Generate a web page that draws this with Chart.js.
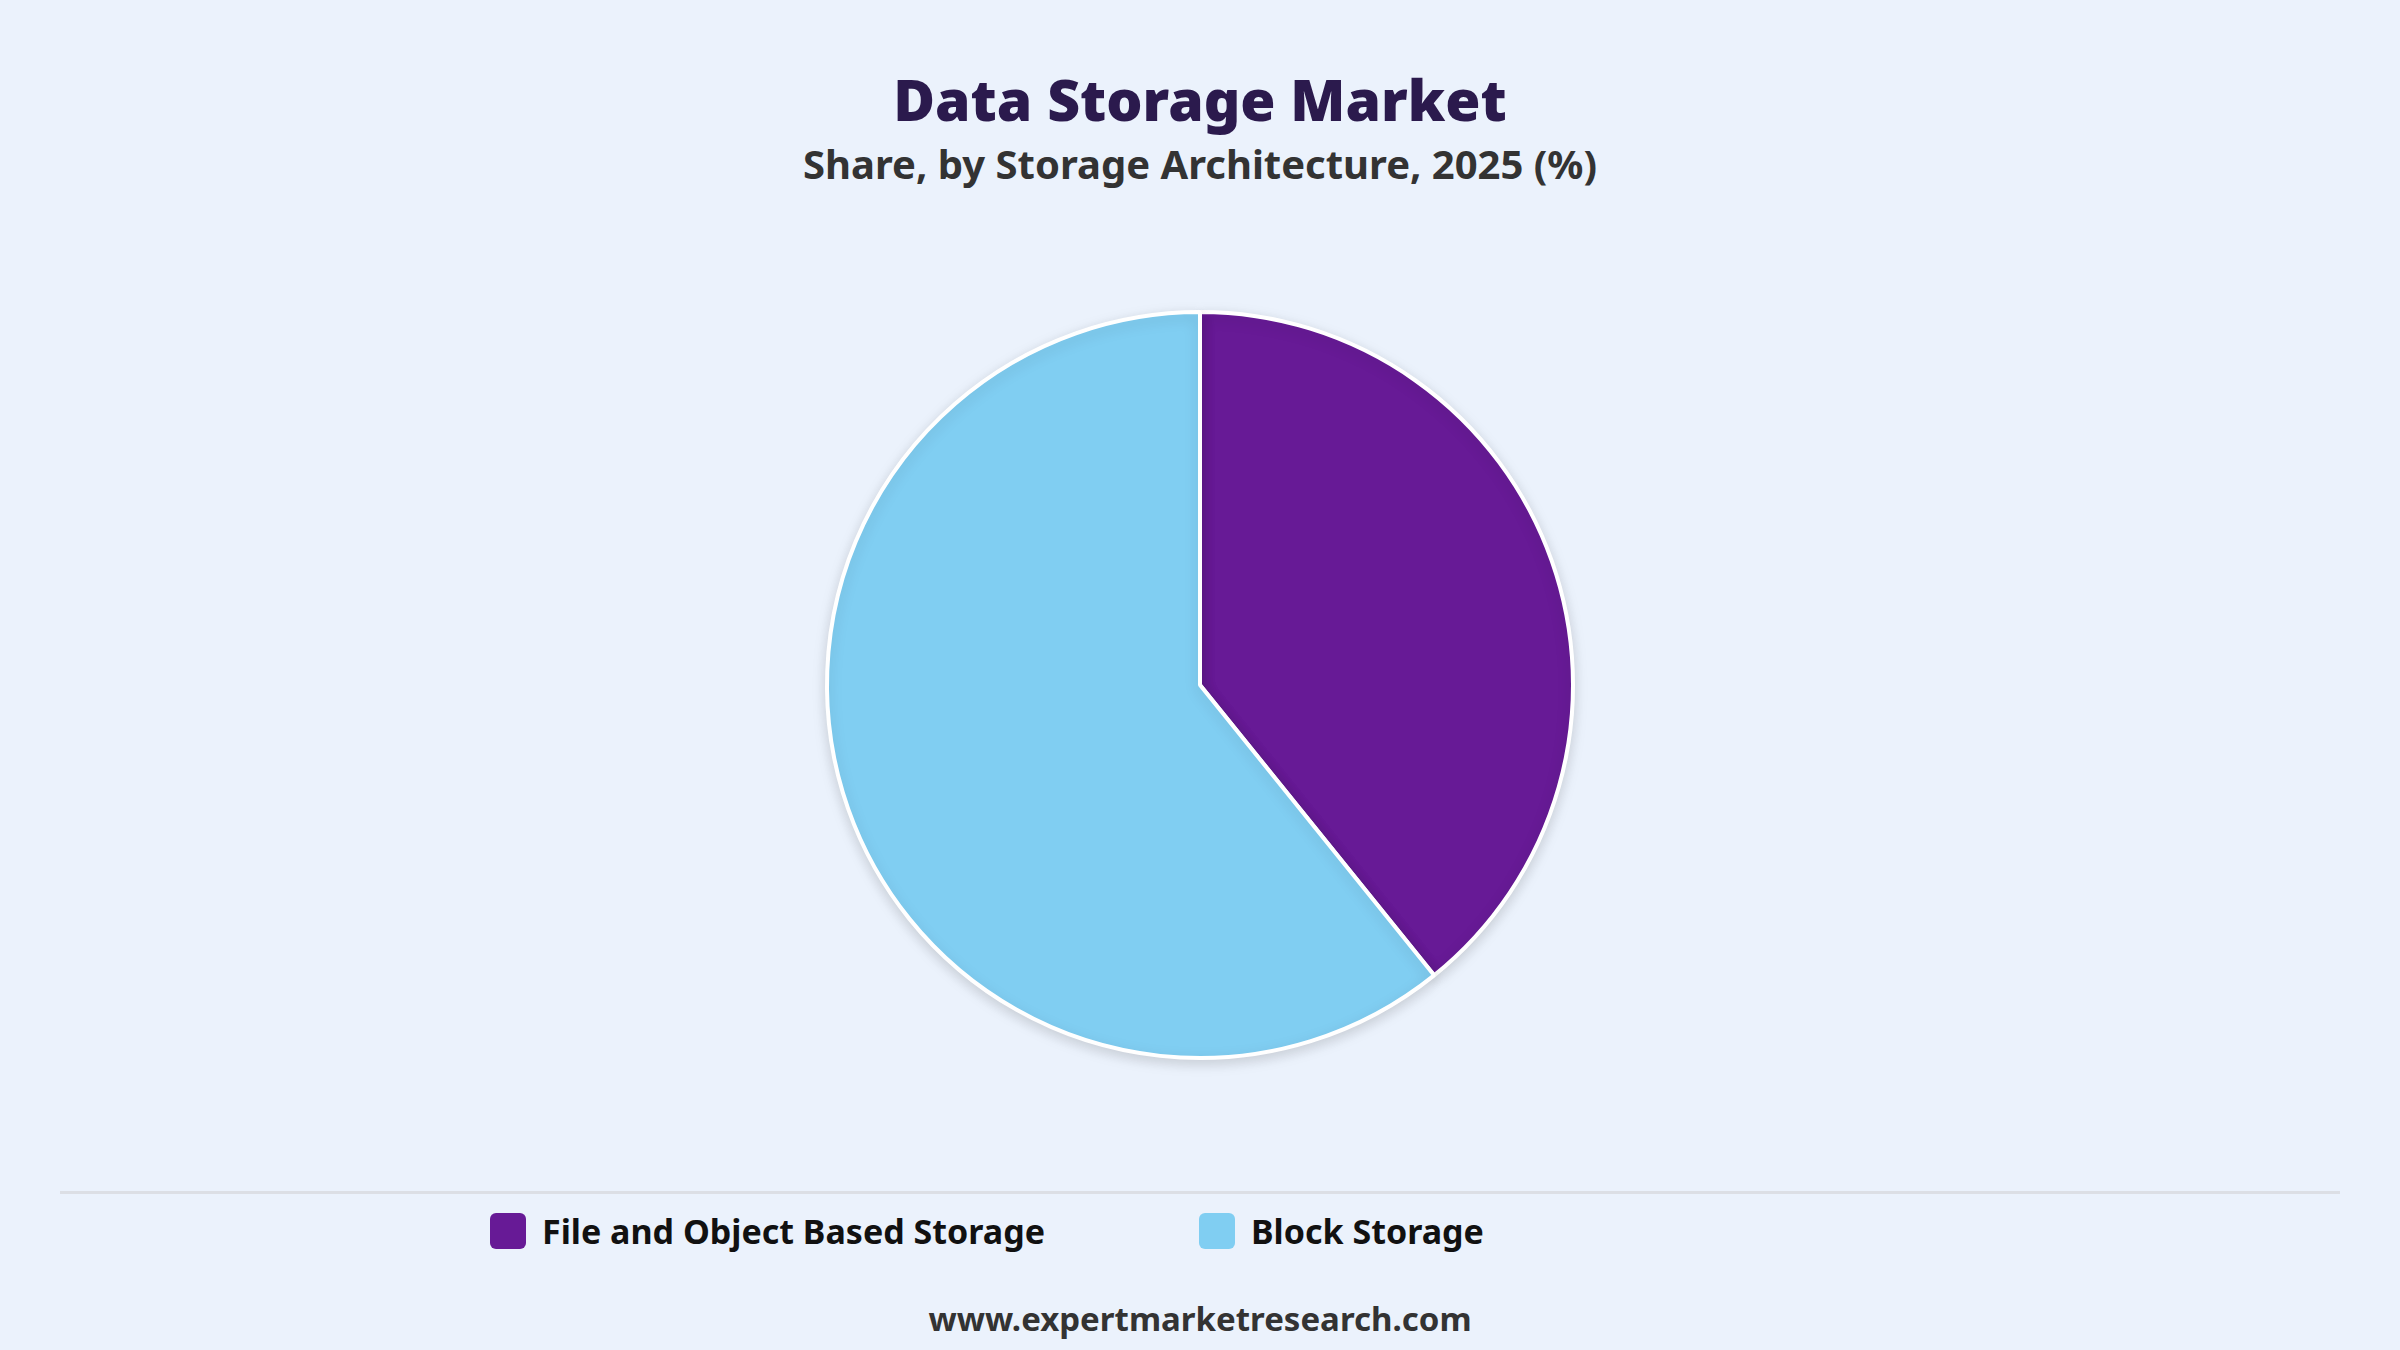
<!DOCTYPE html>
<html><head><meta charset="utf-8">
<script src="https://cdn.jsdelivr.net/npm/chart.js@4"></script>
<style>
body{margin:0;width:2400px;height:1350px;background:#ebf2fc;font-family:"Noto Sans",sans-serif;position:relative;overflow:hidden}
.t{position:absolute;left:0;width:2400px;text-align:center}
#title{top:60px;font-size:57px;font-weight:900;color:#2b1a4d}
#sub{top:136px;font-size:40px;font-weight:700;color:#333}
#wrap{position:absolute;left:0;top:290px;width:2400px;height:790px}
#line{position:absolute;left:60px;width:2280px;top:1191px;border-top:3px solid #dcdfe5}
.lg{position:absolute;top:1208px;font-size:34px;font-weight:700;color:#111;display:flex;align-items:center}
.sw{width:36px;height:36px;border-radius:6px;margin-right:16px}
#foot{top:1296px;font-size:33px;font-weight:700;color:#333}
</style></head><body>
<div class="t" id="title">Data Storage Market</div>
<div class="t" id="sub">Share, by Storage Architecture, 2025 (%)</div>
<div id="wrap"><canvas id="c"></canvas></div>
<div id="line"></div>
<div id="legend"></div>
<div class="t" id="foot">www.expertmarketresearch.com</div>
<script>
const categories=["File and Object Based Storage","Block Storage"];
const shares=[39.2,60.8];
const colors=["#671a96","#80cef2"];
const lgX=[490,1199];
const lg=document.getElementById('legend');
categories.forEach((c,i)=>{const d=document.createElement('div');d.className='lg';d.style.left=lgX[i]+'px';
d.innerHTML='<div class="sw" style="background:'+colors[i]+'"></div>'+c;lg.appendChild(d);});
const shadow={id:'sh',beforeDatasetsDraw(ch){ch.ctx.save();ch.ctx.shadowColor='rgba(0,0,0,0.15)';ch.ctx.shadowBlur=14;ch.ctx.shadowOffsetY=4;},afterDatasetsDraw(ch){ch.ctx.restore();}};
new Chart(document.getElementById('c'),{type:'pie',
data:{labels:categories,datasets:[{data:shares,backgroundColor:colors,borderColor:'#fff',borderWidth:4}]},
options:{responsive:true,maintainAspectRatio:false,animation:false,layout:{padding:20},
plugins:{legend:{display:false},tooltip:{enabled:false}}},plugins:[shadow]});
</script></body></html>
